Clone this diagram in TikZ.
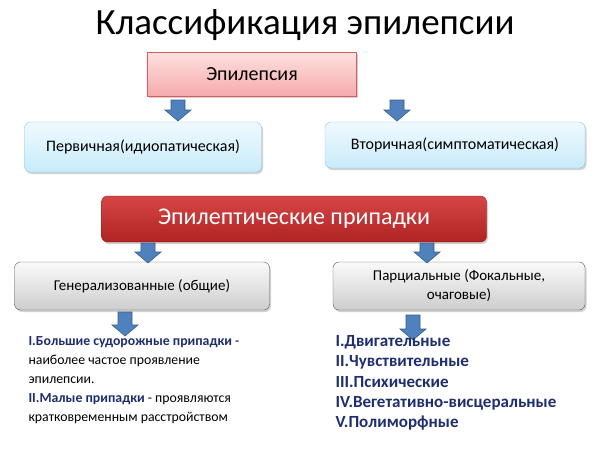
\documentclass[tikz,border=0pt]{standalone}
\usepackage{fontspec}
\setmainfont{Carlito}
\usetikzlibrary{shadows}
\definecolor{arrblue}{RGB}{79,129,189}
\definecolor{arrline}{RGB}{56,93,138}
\definecolor{txtblue}{RGB}{31,46,110}
\tikzset{
  base/.style={rounded corners=6pt, minimum height=46pt, align=center, drop shadow={opacity=0.35,shadow xshift=1.5pt,shadow yshift=-2pt}},
  pinkbox/.style={base, draw={rgb,255:red,220;green,90;blue,90}, top color={rgb,255:red,255;green,225;blue,225}, bottom color={rgb,255:red,245;green,170;blue,170}, font=\fontsize{20}{24}\selectfont, minimum width=209pt, minimum height=44pt, rounded corners=0pt},
  bluebox/.style={base, draw={rgb,255:red,140;green,200;blue,230}, top color={rgb,255:red,240;green,250;blue,255}, bottom color={rgb,255:red,200;green,235;blue,250}, font=\fontsize{16}{19}\selectfont},
  redbox/.style={base, draw={rgb,255:red,150;green,30;blue,30}, top color={rgb,255:red,215;green,70;blue,70}, bottom color={rgb,255:red,175;green,35;blue,35}, text=white, font=\fontsize{24}{28}\selectfont},
  graybox/.style={base, draw={rgb,255:red,90;green,90;blue,90}, top color={rgb,255:red,250;green,250;blue,250}, bottom color={rgb,255:red,205;green,205;blue,205}, font=\fontsize{15}{19}\selectfont},
  barrow/.style={fill=arrblue, draw=arrline, line width=0.6pt}
}
\newcommand{\blockarrow}[3]{% x, ytop, ybottom
  \draw[barrow] (#1-7,#2) -- (#1+7,#2) -- (#1+7,#3-11) -- (#1+13,#3-11) -- (#1,#3) -- (#1-13,#3-11) -- (#1-7,#3-11) -- cycle;}
\begin{document}
\begin{tikzpicture}[x=1pt,y=-1pt]
\useasboundingbox (0,0) rectangle (610,456);
\fill[white] (0,0) rectangle (610,456);
\node (title) at (305,25) {\fontsize{37}{42}\selectfont Классификация эпилепсии};
\node[pinkbox] (epi) at (252,74) {Эпилепсия};
\node[bluebox, minimum width=237pt, minimum height=50pt] (prim) at (143,147) {Первичная(идиопатическая)};
\node[bluebox, minimum width=260pt] (vtor) at (455,145) {Вторичная(симптоматическая)};
\node[redbox, minimum width=385pt] (pr) at (294,219) {Эпилептические припадки};
\node[graybox, minimum width=255pt, minimum height=48pt] (gen) at (142,286) {Генерализованные (общие)};
\node[graybox, minimum width=252pt, minimum height=48pt] (par) at (459,286) {Парциальные (Фокальные,\\очаговые)};
\blockarrow{178}{100}{121}
\blockarrow{397}{100}{121}
\blockarrow{148}{243}{263}
\blockarrow{427}{243}{263}
\blockarrow{125}{312}{336}
\blockarrow{413}{315}{340}
\node[anchor=north west, align=left, font=\fontsize{13.8}{19}\selectfont] (lt) at (25,333) {%
{\color{txtblue}\bfseries I.Большие судорожные припадки} -\\
наиболее частое проявление\\
эпилепсии.\\
{\color{txtblue}\bfseries II.Малые припадки} - проявляются\\
кратковременным расстройством};
\node[anchor=north west, align=left, text=txtblue, font=\bfseries\fontsize{17}{20.3}\selectfont] (rt) at (332,332) {%
I.Двигательные\\II.Чувствительные\\III.Психические\\IV.Вегетативно-висцеральные\\V.Полиморфные};
\end{tikzpicture}
\end{document}
